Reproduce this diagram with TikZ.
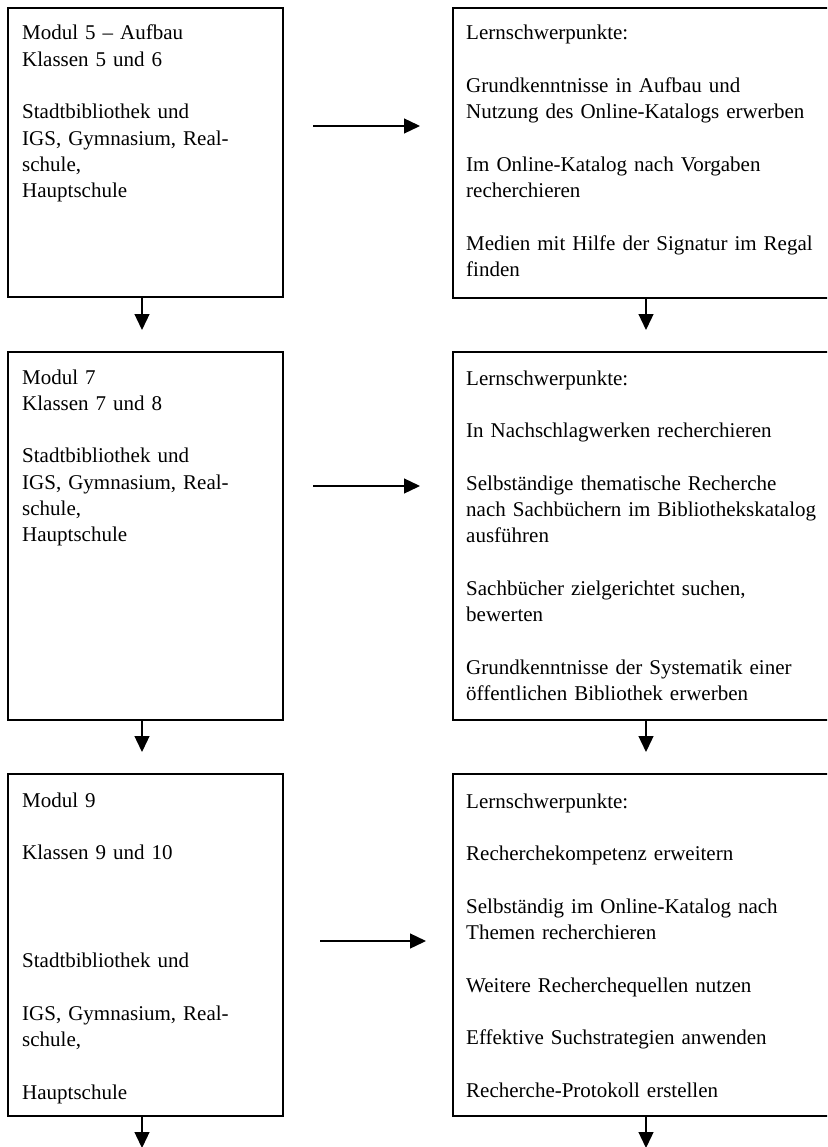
\documentclass[tikz,border=0pt]{standalone}
\usepackage{fontspec}
\setmainfont{Liberation Serif}
\usetikzlibrary{arrows.meta}
\tikzset{
  box/.style={draw, line width=2pt, rectangle, inner sep=0pt},
  txt/.style={anchor=base west, inner sep=0pt, align=left, text width=380pt,
    font=\fontsize{21}{26.3}\selectfont},
  conn/.style={line width=1.3pt, -{Triangle[length=16pt, width=15pt]}}
}
\newcommand{\gap}{\\[26.3pt]}
\begin{document}
\begin{tikzpicture}[x=1pt, y=-1pt]
\useasboundingbox (0,0) rectangle (827,1147);
\clip (0,0) rectangle (827,1147);
% boxes
\node[box, minimum width=275pt, minimum height=289pt, anchor=north west] (L1) at (7,7) {};
\node[box, minimum width=390pt, minimum height=290pt, anchor=north west] (R1) at (452,7) {};
\node[box, minimum width=275pt, minimum height=368pt, anchor=north west] (L2) at (7,351) {};
\node[box, minimum width=390pt, minimum height=368pt, anchor=north west] (R2) at (452,351) {};
\node[box, minimum width=275pt, minimum height=342pt, anchor=north west] (L3) at (7,773) {};
\node[box, minimum width=390pt, minimum height=342pt, anchor=north west] (R3) at (452,773) {};
% texts
\node[txt] (t1) at (22,40) {Modul 5 – Aufbau\\Klassen 5 und 6\gap Stadtbibliothek und\\IGS, Gymnasium, Real-\\schule,\\Hauptschule};
\node[txt] (t2) at (466,40) {Lernschwerpunkte:\gap Grundkenntnisse in Aufbau und\\Nutzung des Online-Katalogs erwerben\gap Im Online-Katalog nach Vorgaben\\recherchieren\gap Medien mit Hilfe der Signatur im Regal\\finden};
\node[txt] (t3) at (22,384) {Modul 7\\Klassen 7 und 8\gap Stadtbibliothek und\\IGS, Gymnasium, Real-\\schule,\\Hauptschule};
\node[txt] (t4) at (466,385) {Lernschwerpunkte:\gap In Nachschlagwerken recherchieren\gap Selbständige thematische Recherche\\nach Sachbüchern im Bibliothekskatalog\\ausführen\gap Sachbücher zielgerichtet suchen,\\bewerten\gap Grundkenntnisse der Systematik einer\\öffentlichen Bibliothek erwerben};
\node[txt] (t5) at (22,807) {Modul 9\gap Klassen 9 und 10\\[3pt]\mbox{}\\\mbox{}\\\mbox{}\\Stadtbibliothek und\gap IGS, Gymnasium, Real-\\schule,\gap Hauptschule};
\node[txt] (t6) at (466,808) {Lernschwerpunkte:\gap Recherchekompetenz erweitern\gap Selbständig im Online-Katalog nach\\Themen recherchieren\gap Weitere Recherchequellen nutzen\gap Effektive Suchstrategien anwenden\gap Recherche-Protokoll erstellen};
% arrow end points
\coordinate (a1s) at (313,126);
\coordinate (a1e) at (420,126);
\coordinate (a2s) at (313,486);
\coordinate (a2e) at (420,486);
\coordinate (a3s) at (320,941);
\coordinate (a3e) at (426,941);
\coordinate (d1) at (142,330);
\coordinate (d2) at (646,330);
\coordinate (d3) at (142,752);
\coordinate (d4) at (646,752);
\coordinate (d5) at (142,1148);
\coordinate (d6) at (646,1148);
% connectors
\draw[conn] (a1s) -- (a1e);
\draw[conn] (a2s) -- (a2e);
\draw[conn] (a3s) -- (a3e);
\draw[conn] (L1.south -| d1) -- (d1);
\draw[conn] (R1.south -| d2) -- (d2);
\draw[conn] (L2.south -| d3) -- (d3);
\draw[conn] (R2.south -| d4) -- (d4);
\draw[conn] (L3.south -| d5) -- (d5);
\draw[conn] (R3.south -| d6) -- (d6);
\end{tikzpicture}
\end{document}
